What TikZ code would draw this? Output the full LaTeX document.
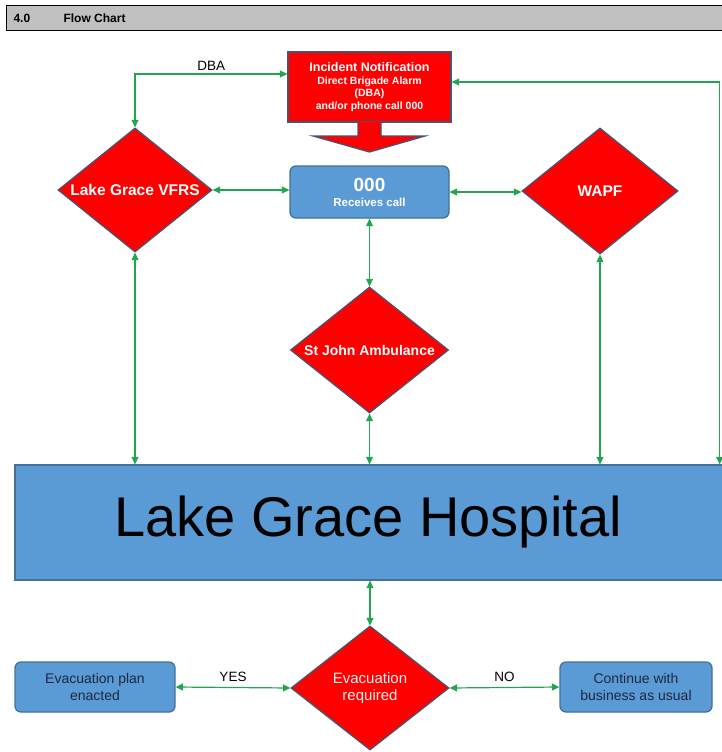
\documentclass[tikz,border=0pt]{standalone}
\usepackage{fontspec}
\setmainfont{Liberation Sans}
\usepackage{tikz}
\usetikzlibrary{arrows.meta,positioning,shapes.geometric}
\definecolor{alarmred}{HTML}{FF0000}
\definecolor{edgeslate}{HTML}{4A5270}
\definecolor{boxblue}{HTML}{5B9BD5}
\definecolor{boxedge}{HTML}{41719C}
\definecolor{boxtext}{HTML}{1C2740}
\definecolor{linkgreen}{HTML}{1FA64F}
\definecolor{headgray}{HTML}{C0C0C0}

\begin{document}
\begin{tikzpicture}[x=1pt,y=-1pt,
    >={Triangle[length=7.5pt,width=7pt]},
    agency/.style={diamond, fill=alarmred, draw=edgeslate, line width=1.3pt,
      inner sep=0pt, aspect=1.25, text=white, font=\bfseries\fontsize{15.5}{18}\selectfont},
    alarm/.style={rectangle, fill=alarmred, draw=edgeslate, line width=1.3pt,
      inner sep=0pt, text=white, align=center},
    callbox/.style={rectangle, rounded corners=6pt, fill=boxblue, draw=boxedge,
      line width=1.3pt, inner sep=0pt, align=center},
    link/.style={draw=linkgreen, line width=1.2pt, <->},
    tag/.style={font=\fontsize{13.5}{15}\selectfont}]
  \useasboundingbox (0,0) rectangle (722,752);

  % Heading bar
  \draw[fill=headgray, draw=black, line width=1pt] (6,6) rectangle (730,31);
  \node[anchor=west, font=\bfseries\fontsize{12}{14}\selectfont] (secno) at (10,18.5) {4.0};
  \node[anchor=west, font=\bfseries\fontsize{12}{14}\selectfont] (sectitle) at (60,18.5) {Flow Chart};

  % Incident notification
  \node[alarm, minimum width=163pt, minimum height=70pt,
        font=\bfseries\fontsize{10.5}{12.5}\selectfont] (incident) at (369.5,87)
    {{\fontsize{12.5}{15}\selectfont Incident Notification}\\Direct Brigade Alarm\\(DBA)\\and/or phone call 000};
  % block arrow under it
  \draw[fill=alarmred, draw=edgeslate, line width=1.3pt]
    (358,122) -- (358,136) -- (313,136) -- (369.5,152) -- (425,136) -- (381,136) -- (381,122);

  % 000 centre
  \node[callbox, minimum width=159pt, minimum height=52pt, text=white] (triple0) at (369.5,192)
    {{\bfseries\fontsize{19}{20}\selectfont 000}\\[3pt]{\bfseries\fontsize{11.5}{13}\selectfont Receives call}};

  % Agencies
  \node[agency, minimum width=154pt, minimum height=124pt] (vfrs) at (135,190) {Lake Grace VFRS};
  \node[agency, minimum width=156pt, minimum height=126pt] (wapf) at (600,191) {WAPF};
  \node[agency, minimum width=158pt, minimum height=126pt,
        font=\bfseries\fontsize{14}{16}\selectfont] (stjohn) at (369.5,350) {St John Ambulance};

  % Hospital
  \node[rectangle, fill=boxblue, draw=boxedge, line width=1.3pt, minimum width=716pt,
        minimum height=115pt, inner sep=0pt] (hospital) at (373,522.5) {};
  \node[font=\fontsize{56}{60}\selectfont] (hosptext) at (368,522) {Lake Grace Hospital};

  % Evacuation decision
  \node[agency, minimum width=158pt, minimum height=124pt, align=center, text=white!94!red,
        font=\fontsize{15}{17}\selectfont] (evac) at (370,688) {Evacuation\\required};
  \node[callbox, minimum width=160pt, minimum height=50pt, text=boxtext,
        font=\fontsize{14}{16.5}\selectfont] (evplan) at (95,687) {Evacuation plan\\enacted};
  \node[callbox, minimum width=152pt, minimum height=50pt, text=boxtext,
        font=\fontsize{14}{16.5}\selectfont] (usual) at (636,687) {Continue with\\business as usual};

  % Connectors
  \draw[link] (vfrs.north) |- ([yshift=13pt]incident.west) node[tag, pos=0.75, above] {DBA};
  \draw[link] ([xshift=-12pt]hospital.north east) |- ([yshift=5pt]incident.east);
  \draw[link] (vfrs.east) -- (triple0.west |- vfrs.east);
  \draw[link] (triple0.east) -- (wapf.west |- triple0.east);
  \draw[link] (triple0.south) -- (stjohn.north);
  \draw[link] (stjohn.south) -- (stjohn.south |- hospital.north);
  \draw[link] (vfrs.south) -- (vfrs.south |- hospital.north);
  \draw[link] (wapf.south) -- (wapf.south |- hospital.north);
  \draw[link] (evac.north |- hospital.south) -- (evac.north);
  \draw[link] (evplan.east) -- (evac.west) node[tag, midway, above=2pt] {YES};
  \draw[link] (evac.east) -- (usual.west) node[tag, midway, above=2pt] {NO};
\end{tikzpicture}
\end{document}
